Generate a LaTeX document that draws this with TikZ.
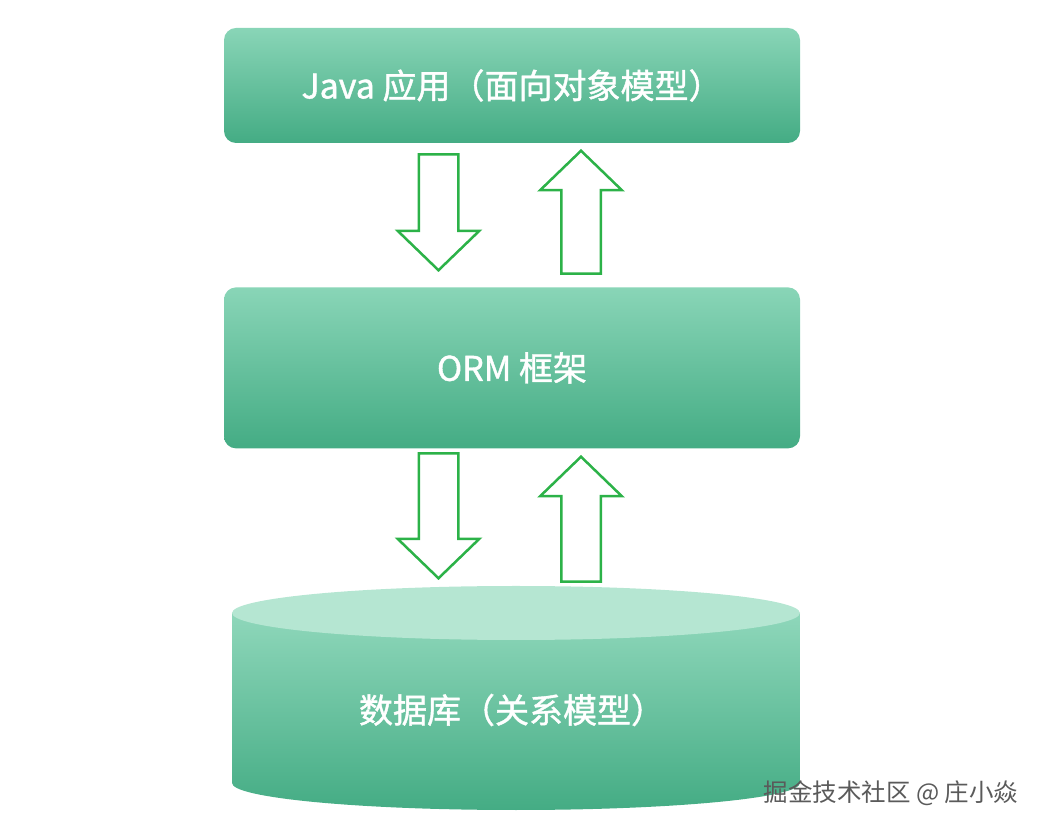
\documentclass[tikz,border=0pt]{standalone}
\usepackage{fontspec}
\setmainfont{Noto Sans CJK SC}
\newfontfamily\labelfont{Noto Sans CJK SC}[FakeBold=1.2]
\usepackage{tikz}
\usetikzlibrary{positioning, shapes.arrows}
\definecolor{boxtop}{RGB}{137,213,183}
\definecolor{boxbot}{RGB}{68,172,132}
\definecolor{captop}{RGB}{181,230,210}
\definecolor{arrowgreen}{RGB}{44,178,72}
\definecolor{markgray}{RGB}{90,90,90}

\begin{document}
\begin{tikzpicture}[
  x=1pt, y=1pt,
  layer/.style={rounded corners=12pt, minimum width=576pt, top color=boxtop, bottom color=boxbot, text=white, font=\labelfont\fontsize{34}{38}\selectfont},
  blk/.style={single arrow, draw=arrowgreen, line width=2.5pt, fill=white, inner xsep=18.5pt, inner ysep=0pt, single arrow head extend=21pt, single arrow tip angle=92},
]
\useasboundingbox (0,0) rectangle (1044,830);
\node[layer, minimum height=115pt] (java) at (512,744.5) {Java 应用（面向对象模型）};
\node[layer, minimum height=161pt, below=144pt of java] (orm) {ORM 框架};
% database cylinder
\shade[top color=boxtop!95!white, bottom color=boxbot] (232,217) -- (232,47) arc[start angle=180, end angle=360, x radius=284, y radius=27] -- (800,217) -- cycle;
\fill[captop] (516,217) ellipse[x radius=284, y radius=27];
\node[text=white, font=\labelfont\fontsize{34}{38}\selectfont] (db) at (512,120) {数据库（关系模型）};
% block arrows
\node[blk, shape border rotate=270, minimum height=116pt, anchor=tip] (down1) at (438.5,558) {};
\node[blk, shape border rotate=90, minimum height=123pt, anchor=tip] (up1) at (581,681) {};
\node[blk, shape border rotate=270, minimum height=125pt, anchor=tip] (down2) at (438.5,250) {};
\node[blk, shape border rotate=90, minimum height=125pt, anchor=tip] (up2) at (581,375) {};
\node[text=markgray, font=\fontsize{24.5}{28}\selectfont, anchor=east] (mark) at (1022,37) {掘金技术社区 @ 庄小焱};
\end{tikzpicture}
\end{document}
